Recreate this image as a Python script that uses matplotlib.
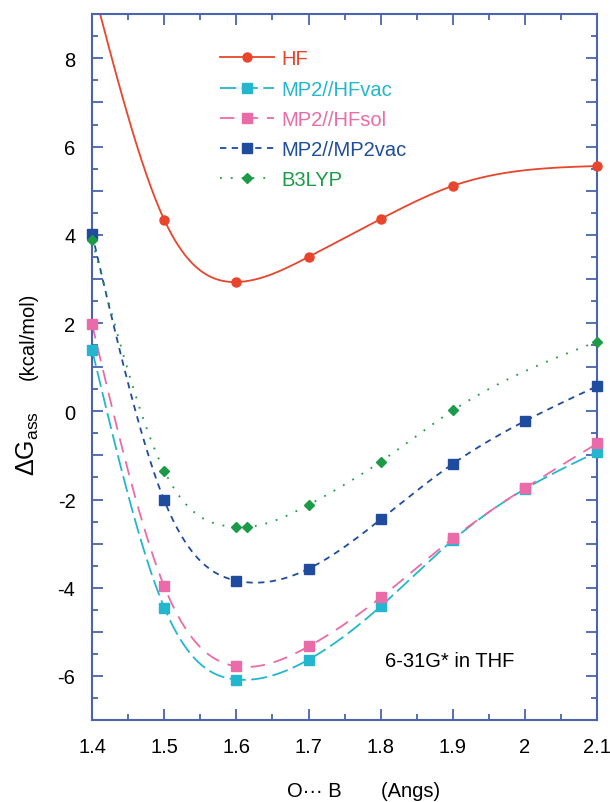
import numpy as np
import matplotlib
matplotlib.use("Agg")
import matplotlib.pyplot as plt
from matplotlib.lines import Line2D
from matplotlib.ticker import MultipleLocator, FuncFormatter

plt.rcParams["font.family"] = ["Liberation Sans", "DejaVu Sans"]
plt.rcParams["font.size"] = 14
plt.rcParams["mathtext.default"] = "regular"

# O...B distance (Angs) and association free energy (kcal/mol)
hf_x = [1.4, 1.5, 1.6, 1.7, 1.8, 1.9, 2.1]
hf_y = [9.7, 4.34, 2.93, 3.50, 4.36, 5.11, 5.56]

hfvac_x = [1.4, 1.5, 1.6, 1.7, 1.8, 1.9, 2.0, 2.1]
hfvac_y = [1.39, -4.45, -6.08, -5.63, -4.42, -2.92, -1.76, -0.92]

hfsol_x = [1.4, 1.5, 1.6, 1.7, 1.8, 1.9, 2.0, 2.1]
hfsol_y = [1.97, -3.97, -5.78, -5.33, -4.22, -2.88, -1.74, -0.73]

mp2vac_x = [1.4, 1.5, 1.6, 1.7, 1.8, 1.9, 2.0, 2.1]
mp2vac_y = [4.02, -2.02, -3.84, -3.57, -2.45, -1.19, -0.22, 0.57]

b3lyp_x = [1.4, 1.5, 1.6, 1.615, 1.7, 1.8, 1.9, 2.1]
b3lyp_y = [3.88, -1.35, -2.62, -2.62, -2.12, -1.14, 0.02, 1.58]

labels = ["HF", "MP2//HFvac", "MP2//HFsol", "MP2//MP2vac", "B3LYP"]

AXIS_COLOR = "#4a64ad"


def smooth(x, y, n=300):
    """Natural cubic spline through the points, for drawing the curve."""
    x = np.asarray(x, float)
    y = np.asarray(y, float)
    k = len(x)
    h = np.diff(x)
    a = np.zeros((k, k))
    b = np.zeros(k)
    a[0, 0] = a[-1, -1] = 1.0
    for i in range(1, k - 1):
        a[i, i - 1] = h[i - 1]
        a[i, i] = 2 * (h[i - 1] + h[i])
        a[i, i + 1] = h[i]
        b[i] = 3 * ((y[i + 1] - y[i]) / h[i] - (y[i] - y[i - 1]) / h[i - 1])
    c = np.linalg.solve(a, b)
    xs = np.linspace(x[0], x[-1], n)
    idx = np.clip(np.searchsorted(x, xs) - 1, 0, k - 2)
    dx = xs - x[idx]
    bb = (y[idx + 1] - y[idx]) / h[idx] - h[idx] * (2 * c[idx] + c[idx + 1]) / 3
    dd = (c[idx + 1] - c[idx]) / (3 * h[idx])
    ys = y[idx] + bb * dx + c[idx] * dx ** 2 + dd * dx ** 3
    return xs, ys


series = [
    (hf_x, hf_y, dict(color="#e8452c", ls="-", marker="o", ms=6.5)),
    (hfvac_x, hfvac_y, dict(color="#22b6cf", ls=(0, (9, 3)), marker="s", ms=7)),
    (hfsol_x, hfsol_y, dict(color="#ea6ba7", ls=(0, (8, 5)), marker="s", ms=7)),
    (mp2vac_x, mp2vac_y, dict(color="#1f4c9f", ls=(0, (3.5, 3)), marker="s", ms=7)),
    (b3lyp_x, b3lyp_y, dict(color="#1b9b48", ls=(0, (1, 5)), marker="D", ms=5.5)),
]

fig = plt.figure(figsize=(6.10, 8.03), dpi=100)
ax = fig.add_axes([0.151, 0.102, 0.828, 0.879])
ax.set_xlim(1.4, 2.1)
ax.set_ylim(-7, 9)

handles = []
for (x, y, st), lab in zip(series, labels):
    xs, ys = smooth(x, y)
    ax.plot(xs, ys, color=st["color"], ls=st["ls"], lw=1.3)
    xa = np.array(x)
    ya = np.array(y)
    inside = (ya >= -7) & (ya <= 9)
    ax.plot(xa[inside], ya[inside], ls="none", marker=st["marker"], ms=st["ms"],
            color=st["color"], mec=st["color"], clip_on=False, zorder=5)
    handles.append(Line2D([], [], color=st["color"], ls=st["ls"], lw=1.3,
                          marker=st["marker"], ms=st["ms"], label=lab))

leg = ax.legend(handles=handles, loc="upper left", bbox_to_anchor=(0.217, 0.976),
                frameon=False, handlelength=2.7, labelspacing=0.56,
                handletextpad=0.35, labelcolor="linecolor", fontsize=14.5)

ax.text(0.58, 0.076, "6-31G* in THF", transform=ax.transAxes, fontsize=14.5)

for side in ax.spines.values():
    side.set_color(AXIS_COLOR)
    side.set_linewidth(1.5)

ax.xaxis.set_major_locator(MultipleLocator(0.1))
ax.xaxis.set_minor_locator(MultipleLocator(0.05))
ax.yaxis.set_major_locator(MultipleLocator(1))
ax.yaxis.set_minor_locator(MultipleLocator(0.5))
ax.xaxis.set_major_formatter(FuncFormatter(lambda v, p: f"{v:g}"))
ax.yaxis.set_major_formatter(
    FuncFormatter(lambda v, p: f"{int(round(v))}" if round(v) % 2 == 0 else ""))
ax.tick_params(which="both", direction="in", top=True, right=True,
               color=AXIS_COLOR, width=1.3, labelsize=14.5)
ax.tick_params(which="major", length=8, pad=12)
ax.tick_params(which="minor", length=4)

ax.set_xlabel("O\u00b7\u00b7\u00b7 B       (Angs)", fontsize=14.5, x=0.537, labelpad=18)

# y-axis title: larger symbol part, then the units
fig.text(0.046, 1 - 444 / 803, r"$\Delta G_{ass}$", rotation=90, fontsize=18,
         ha="center", va="center")
fig.text(0.046, 1 - 336 / 803, "(kcal/mol)", rotation=90, fontsize=14.5,
         ha="center", va="center")

fig.savefig("out.png", dpi=100)
